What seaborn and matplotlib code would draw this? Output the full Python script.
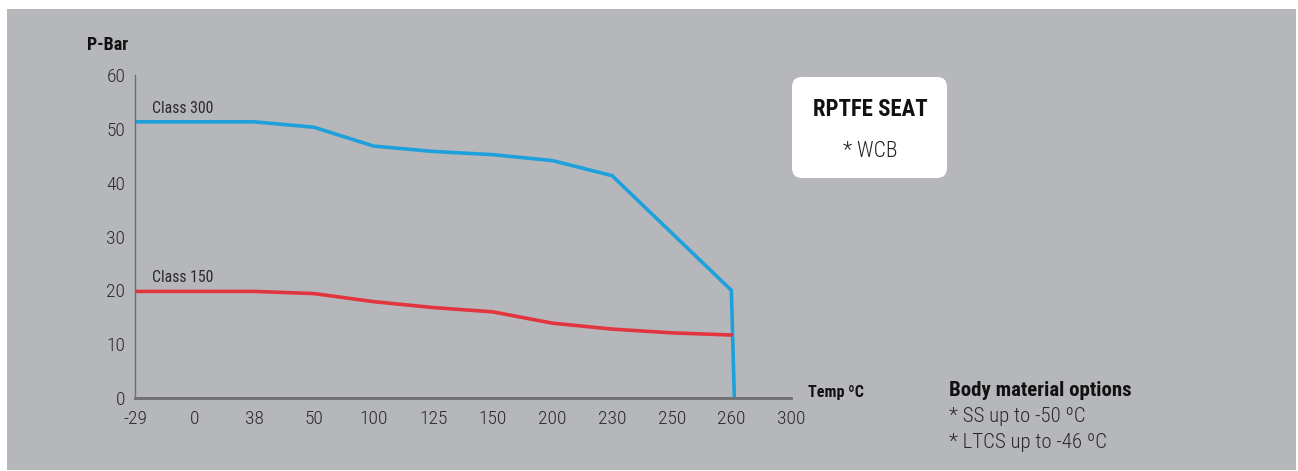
import numpy as np
import pandas as pd
import matplotlib
matplotlib.use("Agg")
import matplotlib.pyplot as plt
from matplotlib import font_manager
from matplotlib.patches import FancyBboxPatch, Rectangle
import seaborn as sns

# x axis is categorical: evenly spaced temperature ticks
tick_temps = [-29, 0, 38, 50, 100, 125, 150, 200, 230, 250, 260, 300]

# Class 300 (WCB, RPTFE seat)
temp_300 = [-29, 38, 50, 100, 125, 150, 200, 230, 260, 262]
bar_300 = [51.3, 51.3, 50.3, 46.8, 45.8, 45.2, 44.1, 41.3, 20.0, 0.0]

# Class 150
temp_150 = [-29, 38, 50, 100, 125, 150, 200, 230, 250, 260]
bar_150 = [19.8, 19.8, 19.4, 17.9, 16.8, 16.0, 13.9, 12.8, 12.1, 11.7]

body_notes = ["* SS up to -50 \u00baC", "* LTCS up to -46 \u00baC"]

W, H = 1298, 471
BG = "#b6b7ba"
BLUE = "#1ea0dc"
RED = "#e2353f"
AXC = "#6e6e70"


def pick_font(names):
    have = {f.name for f in font_manager.fontManager.ttflist}
    for n in names:
        if n in have:
            return n
    return "DejaVu Sans"


sns.set_style("white")
font = pick_font(["Liberation Sans Narrow", "Roboto Condensed", "Open Sans Condensed",
                  "DejaVu Sans Condensed", "Roboto", "Liberation Sans"])
plt.rcParams["font.family"] = [font, "DejaVu Sans"]

# map temperatures onto the evenly spaced category positions
positions = np.arange(len(tick_temps))
df = pd.concat([
    pd.DataFrame({"pos": np.interp(temp_300, tick_temps, positions), "bar": bar_300, "cls": "Class 300"}),
    pd.DataFrame({"pos": np.interp(temp_150, tick_temps, positions), "bar": bar_150, "cls": "Class 150"}),
])

fig = plt.figure(figsize=(W / 100, H / 100), dpi=100, facecolor="white")
fig.patches.append(Rectangle((7 / W, 1 / H), (1296 - 7) / W, (471 - 10) / H,
                             transform=fig.transFigure, facecolor=BG, edgecolor="none", zorder=-5))


def fx(x):
    return x / W


def fy(y):
    return 1 - y / H


ax = fig.add_axes([fx(135), fy(398), (791 - 135) / W, (398 - 75) / H])
ax.set_facecolor("none")
ax.set_zorder(3)

sns.lineplot(data=df, x="pos", y="bar", hue="cls", palette={"Class 300": BLUE, "Class 150": RED},
             sort=False, linewidth=2.6, legend=False, ax=ax)

ax.set_xlim(0, len(tick_temps) - 1)
ax.set_ylim(0, 60)
ax.set_xticks(positions)
ax.set_xticklabels([str(t) for t in tick_temps])
ax.set_yticks(range(0, 61, 10))
ax.set_xlabel("")
ax.set_ylabel("")
for s in ["top", "right"]:
    ax.spines[s].set_visible(False)
ax.spines["left"].set_color(AXC)
ax.spines["left"].set_linewidth(1.0)
ax.spines["bottom"].set_color(AXC)
ax.spines["bottom"].set_linewidth(2.0)
ax.tick_params(axis="both", direction="out", length=4, width=1, color=AXC,
               labelsize=14, labelcolor="#2a2a2a")
ax.tick_params(axis="x", pad=5)
ax.tick_params(axis="y", pad=3)
for lab in ax.get_xticklabels() + ax.get_yticklabels():
    lab.set_fontweight("light")

# series labels
ax.text(0.28, 52.4, "Class 300", fontsize=11.3, color="#2a2a2a", va="bottom", ha="left")
ax.text(0.28, 21.0, "Class 150", fontsize=11.3, color="#2a2a2a", va="bottom", ha="left")

# axis titles
fig.text(fx(87), fy(45), "P-Bar", fontsize=13, fontweight="bold", color="#111111", va="center", ha="left")
fig.text(fx(808), fy(392), "Temp \u00baC", fontsize=11.6, fontweight="bold", color="#111111",
         va="center", ha="left")

# seat box
box = FancyBboxPatch((792 / 100, (H - 178) / 100), (947 - 792) / 100, (178 - 77) / 100,
                     boxstyle="round,pad=0,rounding_size=0.1", transform=fig.dpi_scale_trans,
                     facecolor="white", edgecolor="none", zorder=1)
fig.patches.append(box)
fig.text(fx(870), fy(110), "RPTFE SEAT", fontsize=16.4, fontweight="bold", color="#111111",
         va="center", ha="center", zorder=2)
fig.text(fx(870), fy(152), "* WCB", fontsize=15.5, fontweight="light", color="#222222",
         va="center", ha="center", zorder=2)

# body material notes
fig.text(fx(949), fy(391), "Body material options", fontsize=15, fontweight="bold", color="#111111",
         va="center", ha="left")
for i, note in enumerate(body_notes):
    fig.text(fx(949), fy(416 + 26 * i), note, fontsize=15, fontweight="light", color="#2a2a2a",
             va="center", ha="left")

fig.savefig("out.png", dpi=100, facecolor="white")
